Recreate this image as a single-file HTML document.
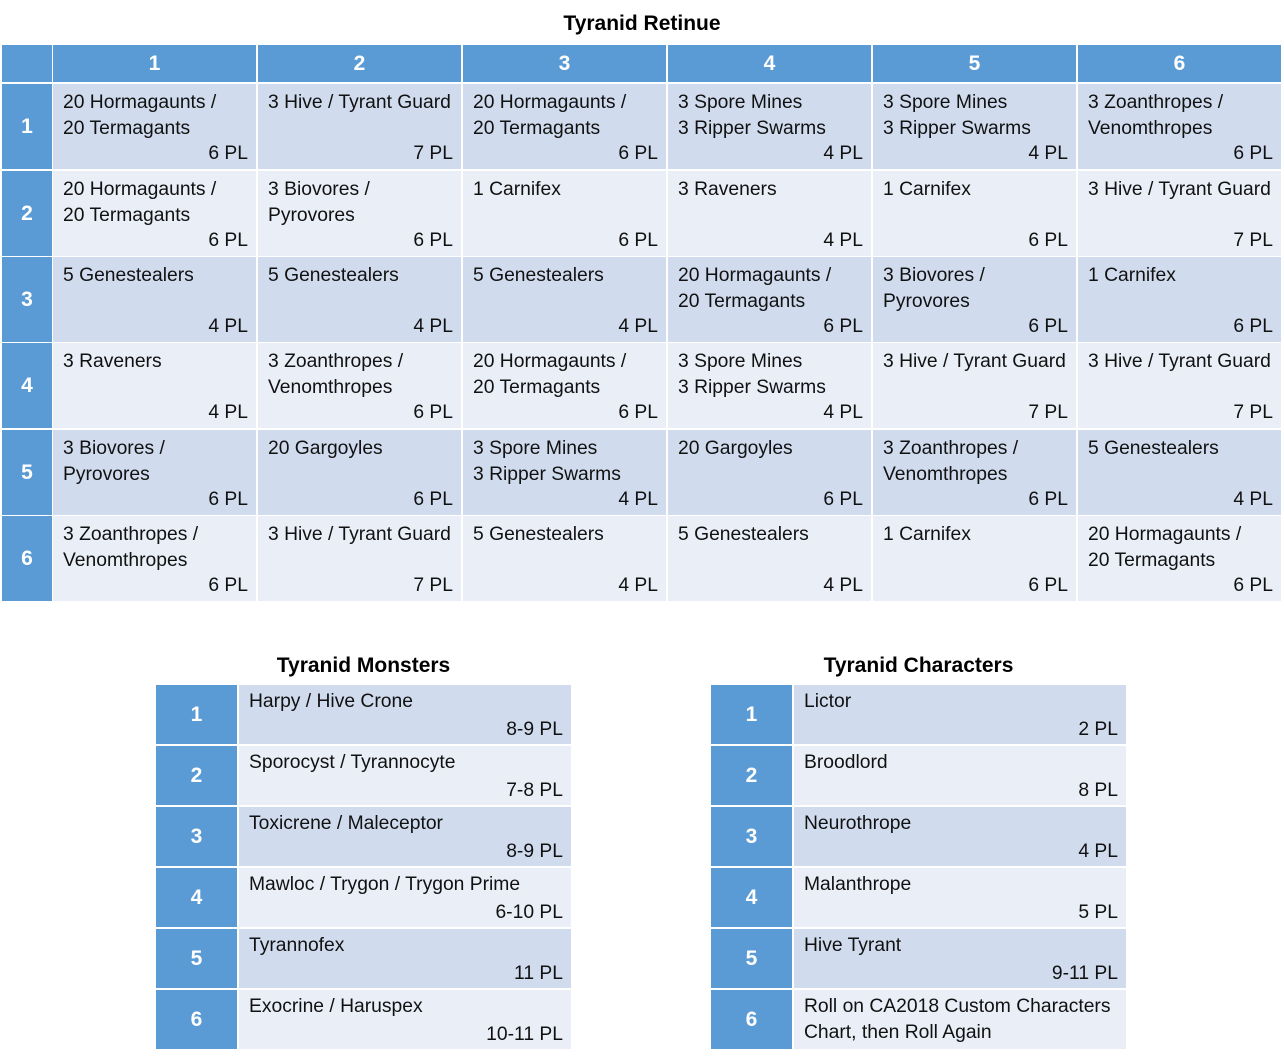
<!DOCTYPE html>
<html><head><meta charset="utf-8"><style>
body{margin:0;width:1284px;height:1058px;background:#fff;position:relative;overflow:hidden;font-family:"Liberation Sans",sans-serif;}
.t{position:absolute;font-weight:bold;font-size:21px;color:#000;text-align:center;}
.c{position:absolute;box-sizing:border-box;}
.h{background:#5b9bd5;color:#fff;font-weight:bold;font-size:21px;display:flex;align-items:center;justify-content:center;}
.a{background:#d0dcee;}
.b{background:#e9eef7;}
.tx{position:absolute;left:10px;top:6px;font-size:19.3px;line-height:26px;color:#111;white-space:nowrap;}
.pl{position:absolute;right:8px;bottom:4px;font-size:19.3px;line-height:22px;color:#111;white-space:nowrap;}
</style></head><body>
<div class="t" style="left:0;width:1284px;top:12px;">Tyranid Retinue</div>
<div class="t" style="left:156px;width:415px;top:654px;">Tyranid Monsters</div>
<div class="t" style="left:711px;width:415px;top:654px;">Tyranid Characters</div>
<div id="root"></div>
<script>
var H='';
function box(x,y,w,h,cls,inner){H+='<div class="c '+cls+'" style="left:'+x+'px;top:'+y+'px;width:'+w+'px;height:'+h+'px">'+(inner||'')+'</div>';}
var cx=[53,258,463,668,873,1078],cw=203;
var ry=[84,171,257,343,430,516],rh=85;
box(2,45,50,37,'h','');
for(var i=0;i<6;i++)box(cx[i],45,cw,37,'h',''+(i+1));
var D=[
[["20 Hormagaunts /<br>20 Termagants","6 PL"],["3 Hive / Tyrant Guard","7 PL"],["20 Hormagaunts /<br>20 Termagants","6 PL"],["3 Spore Mines<br>3 Ripper Swarms","4 PL"],["3 Spore Mines<br>3 Ripper Swarms","4 PL"],["3 Zoanthropes /<br>Venomthropes","6 PL"]],
[["20 Hormagaunts /<br>20 Termagants","6 PL"],["3 Biovores /<br>Pyrovores","6 PL"],["1 Carnifex","6 PL"],["3 Raveners","4 PL"],["1 Carnifex","6 PL"],["3 Hive / Tyrant Guard","7 PL"]],
[["5 Genestealers","4 PL"],["5 Genestealers","4 PL"],["5 Genestealers","4 PL"],["20 Hormagaunts /<br>20 Termagants","6 PL"],["3 Biovores /<br>Pyrovores","6 PL"],["1 Carnifex","6 PL"]],
[["3 Raveners","4 PL"],["3 Zoanthropes /<br>Venomthropes","6 PL"],["20 Hormagaunts /<br>20 Termagants","6 PL"],["3 Spore Mines<br>3 Ripper Swarms","4 PL"],["3 Hive / Tyrant Guard","7 PL"],["3 Hive / Tyrant Guard","7 PL"]],
[["3 Biovores /<br>Pyrovores","6 PL"],["20 Gargoyles","6 PL"],["3 Spore Mines<br>3 Ripper Swarms","4 PL"],["20 Gargoyles","6 PL"],["3 Zoanthropes /<br>Venomthropes","6 PL"],["5 Genestealers","4 PL"]],
[["3 Zoanthropes /<br>Venomthropes","6 PL"],["3 Hive / Tyrant Guard","7 PL"],["5 Genestealers","4 PL"],["5 Genestealers","4 PL"],["1 Carnifex","6 PL"],["20 Hormagaunts /<br>20 Termagants","6 PL"]]];
for(var r=0;r<6;r++){
 box(2,ry[r],50,rh,'h',''+(r+1));
 for(var c=0;c<6;c++){var d=D[r][c];box(cx[c],ry[r],cw,rh,r%2?'b':'a','<div class="tx">'+d[0]+'</div><div class="pl">'+d[1]+'</div>');}
}
var M=[["Harpy / Hive Crone","8-9 PL"],["Sporocyst / Tyrannocyte","7-8 PL"],["Toxicrene / Maleceptor","8-9 PL"],["Mawloc / Trygon / Trygon Prime","6-10 PL"],["Tyrannofex","11 PL"],["Exocrine / Haruspex","10-11 PL"]];
var C=[["Lictor","2 PL"],["Broodlord","8 PL"],["Neurothrope","4 PL"],["Malanthrope","5 PL"],["Hive Tyrant","9-11 PL"],["Roll on CA2018 Custom Characters<br>Chart, then Roll Again",""]];
var ly=[685,746,807,868,929,990];
function small(x0,data){for(var r=0;r<6;r++){box(x0,ly[r],81,59,'h',''+(r+1));box(x0+83,ly[r],332,59,r%2?'b':'a','<div class="tx" style="top:4px">'+data[r][0]+'</div><div class="pl" style="bottom:3px">'+data[r][1]+'</div>');}}
small(156,M);small(711,C);
document.getElementById('root').innerHTML=H;
</script>
</body></html>
